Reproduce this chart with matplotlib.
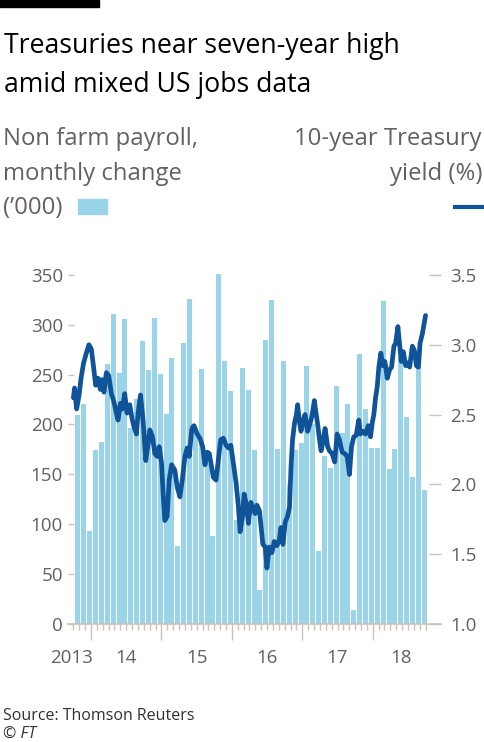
import numpy as np
import matplotlib
matplotlib.use("Agg")
import matplotlib.pyplot as plt
from matplotlib.patches import Rectangle
from matplotlib.lines import Line2D

plt.rcParams['font.family'] = ['Open Sans', 'DejaVu Sans']

# monthly change in non farm payrolls ('000), Oct 2013 .. Sep 2018
payrolls = [
    210, 221, 93,
    174, 182, 261, 311, 252, 306, 196, 226, 284, 255, 307, 251,
    211, 267, 78, 282, 326, 195, 256, 160, 88, 351, 264, 234,
    104, 257, 235, 174, 34, 285, 325, 175, 264, 140, 174, 181,
    259, 200, 73, 168, 156, 239, 191, 221, 14, 271, 216, 176,
    176, 324, 155, 175, 268, 208, 147, 262, 134,
]

# 10-year Treasury yield (%), time in months since 1 Oct 2013
yield_month = [
    0.0, 0.2, 0.55, 0.93, 1.34, 1.74, 2.20, 2.64, 3.05, 3.44, 3.79, 4.18,
    4.59, 4.86, 5.21, 5.61, 6.01, 6.47, 6.91, 7.32, 7.60, 8.01, 8.35, 8.74,
    9.14, 9.60, 9.99, 10.33, 10.74, 11.02, 11.43, 11.87, 12.33, 12.73, 13.02,
    13.48, 13.87, 14.26, 14.61, 15.02, 15.29, 15.58, 15.97, 16.32, 16.73,
    17.29, 17.68, 18.15, 18.61, 19.00, 19.39, 19.74, 20.15, 20.31, 20.55,
    21.10, 21.56, 22.02, 22.42, 22.81, 23.15, 23.56, 23.84, 24.30, 24.69,
    25.10, 25.55, 26.01, 26.41, 26.82, 27.26, 27.72, 28.11, 28.40, 28.80,
    29.09, 29.43, 29.82, 30.23, 30.57, 30.97, 31.26, 31.70, 31.99, 32.28,
    32.68, 32.97, 33.36, 33.82, 34.21, 34.67, 35.07, 35.36, 35.70, 36.09,
    36.49, 36.83, 37.07, 37.34, 37.68, 38.00, 38.20, 38.50, 38.78, 39.10,
    39.46, 39.91, 40.20, 40.49, 40.80, 41.05, 41.30, 41.62, 41.90, 42.20,
    42.50, 42.88, 43.32, 43.62, 44.08, 44.52, 44.93, 45.32, 45.79, 46.23,
    46.64, 47.03, 47.38, 47.77, 48.18, 48.62, 48.91, 49.31, 49.77, 50.23,
    50.62, 50.91, 51.19, 51.48, 51.77, 52.04, 52.38, 52.73, 53.07, 53.48,
    53.87, 54.21, 54.61, 54.90, 55.29, 55.58, 55.87, 56.21, 56.61, 56.90,
    57.29, 57.75, 58.09, 58.44, 58.78, 59.06, 59.46, 60.0,
]
yield_pct = [
    2.62, 2.69, 2.54, 2.63, 2.77, 2.87, 2.94, 3.00, 2.97, 2.84, 2.71, 2.76,
    2.68, 2.75, 2.66, 2.80, 2.78, 2.65, 2.59, 2.51, 2.46, 2.58, 2.54, 2.65,
    2.51, 2.57, 2.47, 2.41, 2.36, 2.51, 2.64, 2.46, 2.17, 2.29, 2.39,
    2.34, 2.22, 2.20, 2.27, 2.15, 1.93, 1.74, 1.77, 2.03, 2.14,
    2.10, 1.98, 1.91, 2.05, 2.20, 2.26, 2.20, 2.39, 2.41, 2.42,
    2.36, 2.33, 2.27, 2.14, 2.23, 2.22, 2.12, 2.05, 2.03, 2.17,
    2.32, 2.33, 2.28, 2.26, 2.28, 2.15, 2.01, 1.84, 1.66, 1.77,
    1.93, 1.86, 1.72, 1.87, 1.83, 1.79, 1.85, 1.81, 1.69, 1.57,
    1.55, 1.40, 1.55, 1.51, 1.59, 1.56, 1.60, 1.69, 1.57, 1.73,
    1.77, 1.84, 2.12, 2.32, 2.44, 2.50, 2.57, 2.45, 2.38, 2.45,
    2.50, 2.38, 2.42, 2.46, 2.53, 2.60, 2.52, 2.43, 2.33, 2.24,
    2.30, 2.40, 2.27, 2.24, 2.22, 2.16, 2.36, 2.32, 2.23, 2.22,
    2.20, 2.07, 2.27, 2.34, 2.35, 2.46, 2.36, 2.38, 2.36, 2.42,
    2.34, 2.44, 2.50, 2.62, 2.70, 2.84, 2.94, 2.85, 2.88, 2.76,
    2.82, 2.84, 2.99, 3.01, 3.13, 3.00, 2.88, 2.95, 2.85, 2.87,
    2.84, 2.99, 2.96, 2.85, 2.84, 3.01, 3.08, 3.21,
]

left_ticks = [0, 50, 100, 150, 200, 250, 300, 350]
right_ticks = [1.0, 1.5, 2.0, 2.5, 3.0, 3.5]
year_labels = ['2013', '14', '15', '16', '17', '18']
year_label_pos = [-0.3, 9, 21, 33, 45, 55.8]
year_starts = [3, 15, 27, 39, 51]

bar_c = '#9ad4e8'
line_c = '#0f5499'
grey = '#66605c'
tick_c = '#ccc1b7'

W, H = 484, 742
fig = plt.figure(figsize=(W / 100, H / 100), dpi=100)
fig.patch.set_facecolor('white')

ax = fig.add_axes([68 / W, 1 - 623.8 / H, (441 - 68) / W, (623.8 - 275) / H])
x = np.arange(len(payrolls)) + 0.78
ax.bar(x, payrolls, width=0.85, color=bar_c, zorder=1, clip_on=False)
ax.set_xlim(-0.92, 62.63)
ax.set_ylim(0, 350)
for s in ['top', 'right', 'left']:
    ax.spines[s].set_visible(False)
ax.spines['bottom'].set_color(tick_c)
ax.spines['bottom'].set_linewidth(1.2)
ax.set_yticks(left_ticks)
ax.tick_params(axis='y', direction='in', length=4.3, width=1, color=tick_c,
               labelcolor=grey, labelsize=13.5, pad=3.6)
ax.set_xticks(year_starts)
ax.set_xticklabels([])
ax.set_xticks(np.arange(0, 61), minor=True)
ax.tick_params(axis='x', which='major', direction='out', length=11.5, width=1, color=tick_c)
ax.tick_params(axis='x', which='minor', direction='out', length=4.3, width=1, color=tick_c)
for lab, pos in zip(year_labels, year_label_pos):
    ax.text(pos, -0.112, lab, transform=ax.get_xaxis_transform(), ha='center',
            va='baseline', fontsize=13.5, color=grey)

ax2 = ax.twinx()
ax2.plot(yield_month, yield_pct, color=line_c, lw=3.4, solid_joinstyle='round',
         solid_capstyle='round', zorder=3)
ax2.set_ylim(1.0, 3.5)
for s in ax2.spines.values():
    s.set_visible(False)
ax2.set_yticks(right_ticks)
ax2.set_yticklabels([f'{v:.1f}' for v in right_ticks])
ax2.tick_params(axis='y', direction='in', length=8.6, width=1, color=tick_c,
                labelcolor=grey, labelsize=13.5, pad=6.5)

# header
fig.patches.append(Rectangle((0, 1 - 7 / H), 99 / W, 7 / H, transform=fig.transFigure,
                             color='black'))
fig.text(4 / W, 1 - 53 / H, 'Treasuries near seven-year high', fontsize=19.2,
         color='black', va='baseline')
fig.text(4 / W, 1 - 92 / H, 'amid mixed US jobs data', fontsize=19.2,
         color='black', va='baseline')

fig.text(3 / W, 1 - 145 / H, 'Non farm payroll,', fontsize=17.2, color=grey, va='baseline')
fig.text(3 / W, 1 - 180 / H, 'monthly change', fontsize=17.2, color=grey, va='baseline')
fig.text(3 / W, 1 - 214 / H, '(\u2019000)', fontsize=17.2, color=grey, va='baseline')
fig.patches.append(Rectangle((78 / W, 1 - 214 / H), 29 / W, 15 / H,
                             transform=fig.transFigure, color=bar_c))

fig.text(482 / W, 1 - 145 / H, '10-year Treasury', fontsize=17.2, color=grey,
         va='baseline', ha='right')
fig.text(482 / W, 1 - 180 / H, 'yield (%)', fontsize=17.2, color=grey,
         va='baseline', ha='right')
fig.lines.append(Line2D([455 / W, 482 / W], [1 - 207 / H, 1 - 207 / H],
                        transform=fig.transFigure, color=line_c, lw=3))

fig.text(3 / W, 1 - 720 / H, 'Source: Thomson Reuters', fontsize=11.5, color='#33302e',
         va='baseline')
fig.text(3 / W, 1 - 738 / H, '\u00a9 FT', fontsize=11.5, color='#33302e',
         va='baseline', style='italic')

fig.savefig('out.png', dpi=100, facecolor='white')
